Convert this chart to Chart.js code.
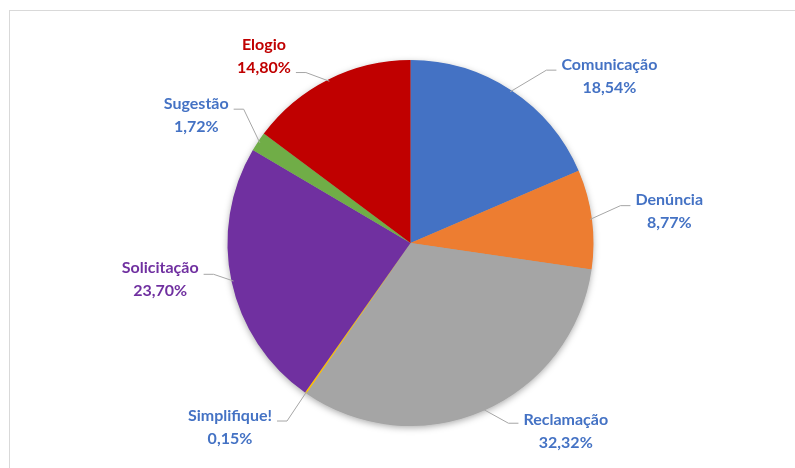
<!DOCTYPE html>
<html>
<head>
<meta charset="utf-8">
<script src="https://cdn.jsdelivr.net/npm/chart.js@4"></script>
<style>
  html, body { margin: 0; padding: 0; background: #fff; }
  #moldura {
    position: absolute; left: 9px; top: 10px;
    width: 800px; height: 470px;
    border: 1px solid #d9d9d9;
  }
  #grafico { position: absolute; left: 0; top: 0; }
</style>
</head>
<body>
<div id="moldura"></div>
<canvas id="grafico" width="795" height="468"></canvas>
<script>
// categorias e percentuais (sentido horario a partir do topo)
const categorias = ['Comunicação', 'Denúncia', 'Reclamação', 'Simplifique!', 'Solicitação', 'Sugestão', 'Elogio']
const percentuais = [18.54, 8.77, 32.32, 0.15, 23.70, 1.72, 14.80]
const rotulos = ['18,54%', '8,77%', '32,32%', '0,15%', '23,70%', '1,72%', '14,80%']

const cores = ['#4472C4', '#ED7D31', '#A5A5A5', '#FFC000', '#7030A0', '#70AD47', '#C00000']
const coresTexto = ['#4472C4', '#4472C4', '#4472C4', '#4472C4', '#7030A0', '#4472C4', '#C00000']

// ajuste fino da posicao dos rotulos (dx, dy, altura da linha guia)
const ajustes = [
    [62, 41, -6],
    [12, 1, -6],
    [56, -40, -8],
    [-38, -20, -6],
    [-7, -16, -5],
    [-7, 10, -6],
    [-35, 36, 16]
]

const fonte = 'bold 16px Lato'

const sombra = {
    id: 'sombra',
    beforeDatasetsDraw(chart) {
        const arco = chart.getDatasetMeta(0).data[0]
        const ctx = chart.ctx
        ctx.save()
        ctx.shadowColor = 'rgba(0,0,0,0.35)'
        ctx.shadowBlur = 7
        ctx.shadowOffsetY = 2
        ctx.fillStyle = '#a5a5a5'
        ctx.beginPath()
        ctx.arc(arco.x, arco.y, arco.outerRadius - 0.5, 0, Math.PI * 2)
        ctx.fill()
        ctx.restore()
    }
}

const rotulosExternos = {
    id: 'rotulosExternos',
    afterDatasetsDraw(chart) {
        const ctx = chart.ctx
        const arcos = chart.getDatasetMeta(0).data
        ctx.save()
        ctx.font = fonte
        ctx.textAlign = 'center'
        ctx.textBaseline = 'middle'
        arcos.forEach(function (arco, i) {
            const p = arco.getProps(['x', 'y', 'startAngle', 'endAngle', 'outerRadius'])
            const meio = (p.startAngle + p.endAngle) / 2
            const r = p.outerRadius
            const bordaX = p.x + Math.cos(meio) * (r - 2)
            const bordaY = p.y + Math.sin(meio) * (r - 2)
            const tx = p.x + Math.cos(meio) * r * 1.36 + ajustes[i][0]
            const ty = p.y + Math.sin(meio) * r * 1.36 + ajustes[i][1]

            const largura = Math.max(ctx.measureText(categorias[i]).width, ctx.measureText(rotulos[i]).width)
            const direita = tx > p.x
            const ly = ty + ajustes[i][2]
            const lx = direita ? tx - largura / 2 - 5 : tx + largura / 2 + 5
            const cotoveloX = direita ? lx - 10 : lx + 10

            ctx.strokeStyle = '#a6a6a6'
            ctx.lineWidth = 1
            ctx.beginPath()
            ctx.moveTo(lx, ly)
            ctx.lineTo(cotoveloX, ly)
            ctx.lineTo(bordaX, bordaY)
            ctx.stroke()

            ctx.fillStyle = coresTexto[i]
            ctx.fillText(categorias[i], tx, ty - 11.5)
            ctx.fillText(rotulos[i], tx, ty + 11.5)
        })
        ctx.restore()
    }
}

const ctx = document.getElementById('grafico')

const config = {
    type: 'pie',
    data: {
        labels: categorias,
        datasets: [{
            data: percentuais,
            backgroundColor: cores,
            borderWidth: 0
        }]
    },
    options: {
        responsive: false,
        animation: false,
        devicePixelRatio: 1,
        layout: { padding: { left: 227, right: 201, top: 60, bottom: 42 } },
        plugins: {
            legend: { display: false },
            tooltip: { enabled: false }
        }
    },
    plugins: [sombra, rotulosExternos]
}

const grafico = new Chart(ctx, config)
</script>
</body>
</html>
